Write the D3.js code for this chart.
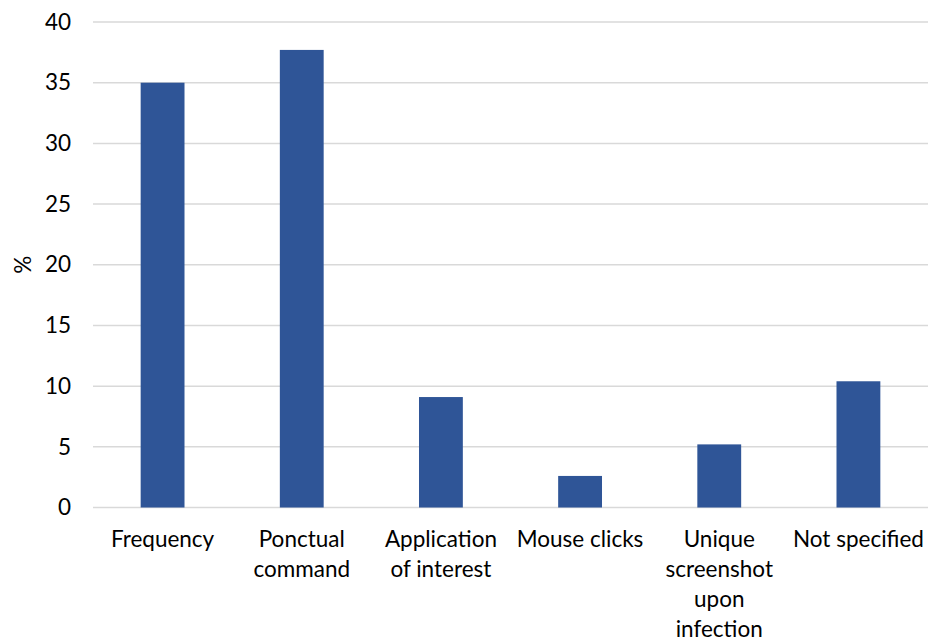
<!DOCTYPE html>
<html>
<head>
<meta charset="utf-8">
<script src="https://cdn.jsdelivr.net/npm/d3@7"></script>
<style>
  html, body { margin: 0; padding: 0; background: #fff; }
  svg { display: block; font-family: Lato, "Open Sans", "Liberation Sans", sans-serif; }
</style>
</head>
<body>
<svg id="chart" width="928" height="641"></svg>
<script>
// Screenshot capture trigger types (share of samples, %)
const categories = [
  ["Frequency"],
  ["Ponctual", "command"],
  ["Application", "of interest"],
  ["Mouse clicks"],
  ["Unique", "screenshot", "upon", "infection"],
  ["Not specified"]
];
const values = [35.0, 37.7, 9.1, 2.6, 5.2, 10.4];
const yTicks = [0, 5, 10, 15, 20, 25, 30, 35, 40];
const yTitle = "%";

const fontSize = 22.5;
const svg = d3.select("#chart");
const margin = { top: 22, right: 0, bottom: 641 - 507.5, left: 93 };
const width = 928 - margin.left - margin.right;
const height = 641 - margin.top - margin.bottom;

const g = svg.append("g").attr("transform", `translate(${margin.left},${margin.top})`);

const x = d3.scaleBand()
  .domain(categories.map((d, i) => i))
  .range([0, width])
  .paddingInner(0.685)
  .paddingOuter(0.3425);

const y = d3.scaleLinear().domain([0, 40]).range([height, 0]);

// gridlines
g.append("g")
  .selectAll("line")
  .data(yTicks)
  .join("line")
  .attr("x1", 0)
  .attr("x2", width)
  .attr("y1", d => y(d))
  .attr("y2", d => y(d))
  .attr("stroke", "#d9d9d9")
  .attr("stroke-width", 1.5);

// y tick labels
const yAxis = g.append("g")
  .call(d3.axisLeft(y).tickValues(yTicks).tickSize(0).tickPadding(22));
yAxis.select(".domain").remove();
yAxis.selectAll("text")
  .attr("font-family", "Lato, 'Open Sans', sans-serif")
  .attr("font-size", fontSize)
  .attr("fill", "#000");

// bars
g.append("g")
  .selectAll("rect")
  .data(values)
  .join("rect")
  .attr("x", (d, i) => x(i))
  .attr("width", x.bandwidth())
  .attr("y", d => y(d))
  .attr("height", d => y(0) - y(d))
  .attr("fill", "#2f5597");

// category labels
const xl = g.append("g").attr("transform", `translate(0,${height})`);
categories.forEach((lines, i) => {
  const t = xl.append("text")
    .attr("x", x(i) + x.bandwidth() / 2)
    .attr("y", 39)
    .attr("text-anchor", "middle")
    .attr("font-size", fontSize)
    .attr("fill", "#000");
  lines.forEach((ln, j) => {
    t.append("tspan")
      .attr("x", x(i) + x.bandwidth() / 2)
      .attr("dy", j === 0 ? 0 : 30)
      .text(ln);
  });
});

// y axis title
svg.append("text")
  .attr("transform", `translate(31,${margin.top + height / 2}) rotate(-90)`)
  .attr("text-anchor", "middle")
  .attr("font-size", fontSize)
  .attr("fill", "#000")
  .text(yTitle);
</script>
</body>
</html>
